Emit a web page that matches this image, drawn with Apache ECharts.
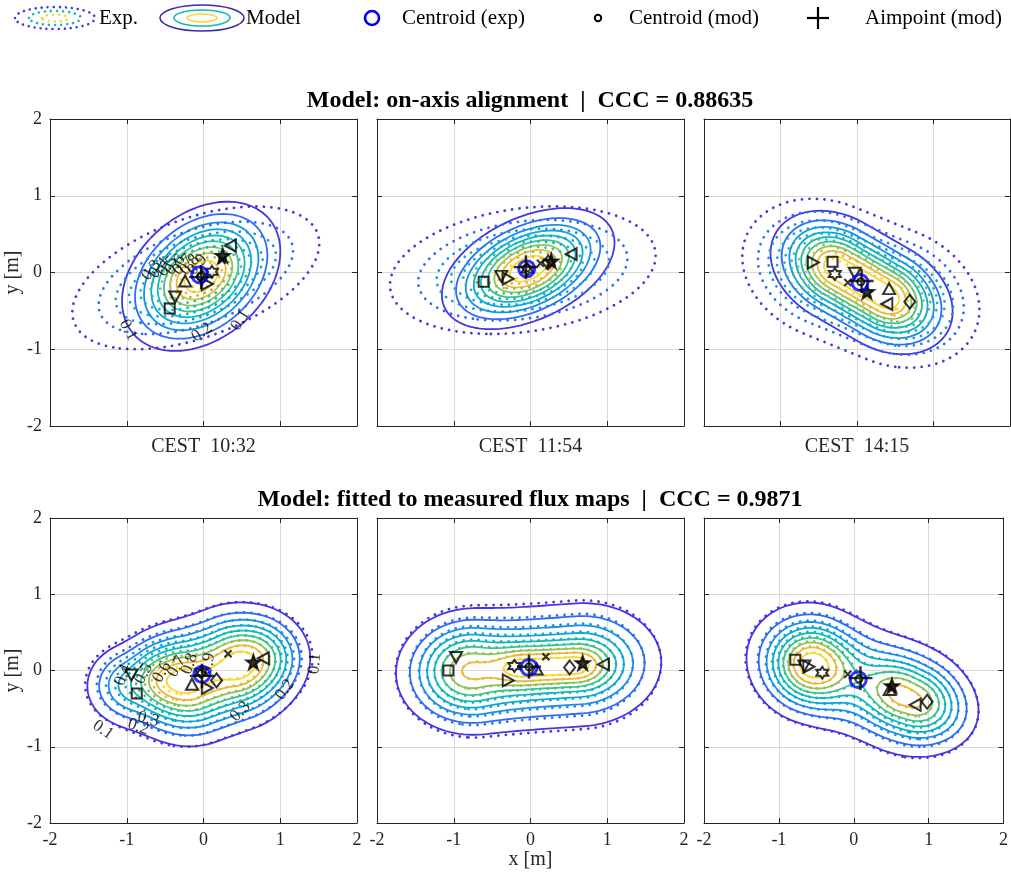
<!DOCTYPE html>
<html>
<head>
<meta charset="utf-8">
<script src="https://cdn.jsdelivr.net/npm/echarts@6/dist/echarts.min.js"></script>
<style>
  html, body { margin: 0; padding: 0; background: #fff; }
  #chart { width: 1011px; height: 878px; }
</style>
</head>
<body>
<div id="chart"></div>
<script>
const FONT = "'Liberation Serif', 'Times New Roman', serif";

// contour levels (normalised flux) and their parula colours
const levels = [0.1, 0.2, 0.3, 0.4, 0.5, 0.6, 0.7, 0.8, 0.9];
const levelColors = ["#4536e0", "#2f6bf5", "#1a90e5", "#0ea8d5", "#13b8b8", "#3bc28f", "#8cc35a", "#e8b93a", "#f7d830"];

const timeLabels = ["CEST  10:32", "CEST  11:54", "CEST  14:15"];
const rowTitles = ["Model: on-axis alignment  |  CCC = 0.88635", "Model: fitted to measured flux maps  |  CCC = 0.9871"];
const axisTicks = [-2, -1, 0, 1, 2];

// flux blobs:
// [x, y, half length, spread along, spread across, angle deg, weight, profile power]
const expBlobs = [
  [[-0.10, -0.07, 0, 0.61, 0.28, 20, 1, 0.75]],
  [[-0.10, 0.03, 0, 0.63, 0.29, 8, 1, 0.75]],
  [[0.05, -0.14, 0.45, 0.50, 0.38, -22, 1, 0.9]],
  [[0.10, -0.06, 0.25, 0.46, 0.40, 20, 1], [-0.85, -0.12, 0.15, 0.33, 0.30, 15, 0.42], [0.82, 0.20, 0, 0.33, 0.30, 0, 0.30]],
  [[0.0, 0.03, 0.65, 0.55, 0.44, 4, 0.7], [0.25, 0.05, 0.3, 0.3, 0.17, 2, 0.4], [-0.95, 0.02, 0, 0.36, 0.36, 0, 0.25]],
  [[-0.55, 0.07, 0, 0.37, 0.33, -15, 1], [0.75, -0.37, 0.1, 0.40, 0.30, -22, 0.8], [0.05, -0.12, 0.6, 0.55, 0.46, -22, 0.42]]
];
const modBlobs = [
  [[-0.03, -0.05, 0, 0.54, 0.38, 40, 1]],
  [[-0.03, 0.05, 0, 0.56, 0.31, 25, 1]],
  [[0.06, -0.13, 0.35, 0.44, 0.32, -30, 1]],
  [[0.12, -0.06, 0.25, 0.44, 0.40, 20, 1], [-0.85, -0.15, 0.15, 0.32, 0.30, 15, 0.40], [0.80, 0.20, 0, 0.32, 0.30, 0, 0.30]],
  [[0.0, 0.03, 0.65, 0.55, 0.42, 4, 0.7], [0.25, 0.05, 0.3, 0.3, 0.17, 2, 0.4], [-0.95, 0.02, 0, 0.35, 0.35, 0, 0.25]],
  [[-0.55, 0.06, 0, 0.36, 0.32, -15, 1], [0.75, -0.36, 0.1, 0.40, 0.29, -22, 0.8], [0.05, -0.12, 0.6, 0.55, 0.46, -22, 0.42]]
];

// heliostat group aimpoints per panel
const heliostatMarks = [
  [["square", -0.44, -0.47], ["triDown", -0.37, -0.32], ["triUp", -0.24, -0.11], ["diamond", -0.02, -0.06], ["triRight", 0.05, -0.15], ["hexagram", 0.11, 0.01], ["cross", 0.24, 0.16], ["star", 0.25, 0.22], ["triLeft", 0.35, 0.35]],
  [["square", -0.61, -0.12], ["triDown", -0.38, -0.05], ["triRight", -0.29, -0.08], ["hexagram", -0.04, 0.04], ["cross", 0.13, 0.12], ["diamond", 0.23, 0.13], ["star", 0.27, 0.15], ["triLeft", 0.53, 0.24]],
  [["triRight", -0.57, 0.13], ["square", -0.32, 0.14], ["hexagram", -0.29, -0.02], ["cross", -0.12, -0.13], ["triDown", -0.03, -0.01], ["star", 0.13, -0.25], ["triUp", 0.42, -0.21], ["triLeft", 0.39, -0.41], ["diamond", 0.69, -0.38]],
  [["triDown", -0.94, -0.06], ["square", -0.87, -0.30], ["triUp", -0.15, -0.18], ["hexagram", -0.03, -0.02], ["triRight", 0.05, -0.23], ["diamond", 0.17, -0.13], ["cross", 0.32, 0.22], ["star", 0.65, 0.11], ["triLeft", 0.78, 0.16]],
  [["square", -1.07, 0.0], ["triDown", -0.97, 0.17], ["triRight", -0.29, -0.13], ["hexagram", -0.21, 0.06], ["triUp", 0.08, 0.02], ["cross", 0.20, 0.18], ["diamond", 0.51, 0.04], ["star", 0.68, 0.10], ["triLeft", 0.95, 0.08]],
  [["square", -0.78, 0.14], ["triDown", -0.66, 0.06], ["triRight", -0.60, 0.05], ["hexagram", -0.42, -0.03], ["cross", -0.08, -0.05], ["star", 0.51, -0.20], ["triUp", 0.48, -0.25], ["triLeft", 0.82, -0.45], ["diamond", 0.98, -0.41]]
];
const centroidExp = [[-0.05, -0.03], [-0.05, 0.05], [0.04, -0.13], [-0.02, -0.05], [-0.02, 0.04], [0.06, -0.12]];
const centroidMod = [[-0.04, -0.05], [-0.05, 0.06], [0.05, -0.12], [-0.03, -0.04], [-0.02, 0.05], [0.07, -0.11]];
const aimpointMod = [[-0.03, -0.06], [-0.06, 0.07], [0.06, -0.11], [-0.02, -0.07], [-0.02, 0.05], [0.09, -0.10]];

// inline contour labels: [text, x, y, rotation]
const contourLabels = [
  [["0.1", -0.98, -0.75, -62], ["0.2", -0.02, -0.78, 35], ["0.1", 0.48, -0.62, 58],
   ["0.3", -0.68, 0.03, 50], ["0.4", -0.58, 0.06, 50], ["0.5", -0.47, 0.08, 50], ["0.6", -0.37, 0.10, 50],
   ["0.7", -0.27, 0.10, 50], ["0.8", -0.18, 0.10, 50], ["0.9", -0.08, 0.10, 50]],
  [], [],
  [["0.1", -1.31, -0.78, -35], ["0.2", -0.85, -0.74, -20], ["0.3", -0.72, -0.64, -15],
   ["0.4", -1.05, -0.06, 70], ["0.5", -0.78, -0.04, 60], ["0.6", -0.54, -0.02, 60], ["0.7", -0.35, 0.05, 60],
   ["0.8", -0.18, 0.09, 70], ["0.9", 0.06, 0.09, 80], ["0.3", 0.48, -0.54, 45], ["0.2", 1.06, -0.25, 55], ["0.1", 1.45, 0.09, 85]],
  [], []
];

// ---------- helpers ----------
function starPath(n, rOut, rIn) {
  let d = "";
  for (let k = 0; k < 2 * n; k++) {
    const r = k % 2 ? rIn : rOut;
    const a = -Math.PI / 2 + k * Math.PI / n;
    d += (k ? "L" : "M") + (10 + r * Math.cos(a)).toFixed(2) + "," + (10 + r * Math.sin(a)).toFixed(2);
  }
  return d + "Z";
}
const symbolDefs = {
  square: { path: "path://M0,0H10V10H0Z", size: 10 },
  triUp: { path: "path://M5,0L10,9L0,9Z", size: [12, 11] },
  triDown: { path: "path://M0,0H10L5,9Z", size: [12, 11] },
  triLeft: { path: "path://M0,5L9,0V10Z", size: [11, 12] },
  triRight: { path: "path://M0,0L9,5L0,10Z", size: [11, 12] },
  diamond: { path: "path://M5,0L10,7L5,14L0,7Z", size: [11, 14] },
  star: { path: "path://" + starPath(5, 10, 4), size: 14, fill: true },
  hexagram: { path: "path://" + starPath(6, 10, 5.8), size: 12 },
  cross: { path: "path://M0,0L10,10M10,0L0,10", size: 7 }
};

function fluxAt(blobs, x, y) {
  let s = 0;
  blobs.forEach(([cx, cy, h, su, sv, ang, w, pw]) => {
    const a = ang * Math.PI / 180;
    const dx = x - cx, dy = y - cy;
    let u = dx * Math.cos(a) + dy * Math.sin(a);
    const v = -dx * Math.sin(a) + dy * Math.cos(a);
    u = Math.max(Math.abs(u) - h, 0);
    s += w * Math.exp(-0.5 * Math.pow((u / su) ** 2 + (v / sv) ** 2, pw || 1));
  });
  return s;
}

const STEP = 0.025;
const gx = [];
for (let v = -2; v <= 2 + 1e-9; v += STEP) gx.push(+v.toFixed(4));

function fluxGrid(blobs) {
  let mx = 0;
  const g = gx.map(y => gx.map(x => { const f = fluxAt(blobs, x, y); mx = Math.max(mx, f); return f; }));
  return g.map(row => row.map(f => f / mx));
}

// marching squares, segments joined into polylines
function contourLines(g, level) {
  const n = gx.length, pts = {}, adj = {};
  const pt = (id, x1, y1, v1, x2, y2, v2) => {
    if (!pts[id]) { const t = (level - v1) / (v2 - v1); pts[id] = [x1 + t * (x2 - x1), y1 + t * (y2 - y1)]; }
    return id;
  };
  const link = (a, b) => { (adj[a] = adj[a] || []).push(b); (adj[b] = adj[b] || []).push(a); };
  for (let j = 0; j < n - 1; j++) {
    for (let i = 0; i < n - 1; i++) {
      const v00 = g[j][i], v10 = g[j][i + 1], v11 = g[j + 1][i + 1], v01 = g[j + 1][i];
      const x0 = gx[i], x1 = gx[i + 1], y0 = gx[j], y1 = gx[j + 1];
      const c = [];
      if ((v00 > level) !== (v10 > level)) c.push(pt("h" + j + "_" + i, x0, y0, v00, x1, y0, v10));
      if ((v10 > level) !== (v11 > level)) c.push(pt("v" + j + "_" + (i + 1), x1, y0, v10, x1, y1, v11));
      if ((v01 > level) !== (v11 > level)) c.push(pt("h" + (j + 1) + "_" + i, x0, y1, v01, x1, y1, v11));
      if ((v00 > level) !== (v01 > level)) c.push(pt("v" + j + "_" + i, x0, y0, v00, x0, y1, v01));
      if (c.length === 2) link(c[0], c[1]);
      else if (c.length === 4) {
        const centre = (v00 + v10 + v11 + v01) / 4;
        if ((centre > level) === (v00 > level)) { link(c[0], c[1]); link(c[2], c[3]); }
        else { link(c[0], c[3]); link(c[1], c[2]); }
      }
    }
  }
  const seen = new Set(), lines = [];
  const walk = start => {
    const ids = [start]; seen.add(start); let cur = start;
    for (;;) {
      const nxt = adj[cur].find(k => !seen.has(k));
      if (!nxt) break;
      seen.add(nxt); ids.push(nxt); cur = nxt;
    }
    if (ids.length > 2 && adj[cur].includes(start)) ids.push(start);
    return ids.map(k => pts[k]);
  };
  Object.keys(adj).filter(k => adj[k].length === 1).forEach(k => { if (!seen.has(k)) lines.push(walk(k)); });
  Object.keys(adj).forEach(k => { if (!seen.has(k)) lines.push(walk(k)); });
  return lines;
}

// ---------- layout ----------
const colLeft = [50, 377, 704], colWidth = [307, 307, 306];
const rowTop = [119, 518], rowHeight = [307, 305];
const nameStyle = { fontSize: 20, fontFamily: FONT, color: "#262626" };

function axisBase(gridIndex, position, showLabels, showSplit) {
  return {
    type: "value", gridIndex, position, min: -2, max: 2, interval: 1,
    axisLine: { show: true, onZero: false, lineStyle: { color: "#262626", width: 1 } },
    axisTick: { show: true, inside: true, length: 5, lineStyle: { color: "#262626" } },
    axisLabel: { show: showLabels, color: "#262626", fontSize: 18, fontFamily: FONT, margin: 8,
      formatter: v => axisTicks.includes(v) ? String(v) : "" },
    splitLine: { show: showSplit, lineStyle: { color: "#d9d9d9", width: 1 } }
  };
}

const grids = [], xAxes = [], yAxes = [], series = [];
for (let p = 0; p < 6; p++) {
  const r = Math.floor(p / 3), c = p % 3;
  grids.push({ left: colLeft[c], top: rowTop[r], width: colWidth[c], height: rowHeight[r] });

  const xb = axisBase(p, "bottom", r === 1, true);
  if (r === 0) {
    Object.assign(xb, { name: timeLabels[c], nameLocation: "middle", nameGap: 11, nameTextStyle: nameStyle });
  } else if (c === 1) {
    Object.assign(xb, { name: "x [m]", nameLocation: "middle", nameGap: 27, nameTextStyle: nameStyle });
  }
  xAxes.push(xb, axisBase(p, "top", false, false));

  const yl = axisBase(p, "left", c === 0, true);
  if (c === 0) {
    Object.assign(yl, { name: "y [m]", nameLocation: "middle", nameGap: 22, nameRotate: 90, nameTextStyle: nameStyle });
  }
  yAxes.push(yl, axisBase(p, "right", false, false));

  const axisRef = { xAxisIndex: 2 * p, yAxisIndex: 2 * p };
  [[expBlobs[p], true], [modBlobs[p], false]].forEach(([blobs, dotted]) => {
    const g = fluxGrid(blobs);
    levels.forEach((lv, li) => {
      contourLines(g, lv).forEach(line => {
        series.push(Object.assign({
          type: "line", data: line, symbol: "none", silent: true, animation: false, z: dotted ? 3 : 2,
          lineStyle: dotted
            ? { color: levelColors[li], width: 2.8, type: [0.01, 7.5], cap: "round" }
            : { color: levelColors[li], width: 1.8 }
        }, axisRef));
      });
    });
  });

  if (contourLabels[p].length) {
    series.push(Object.assign({
      type: "scatter", symbolSize: 0, silent: true, animation: false, z: 4,
      data: contourLabels[p].map(([t, x, y, rot]) => ({ name: t, value: [x, y], label: { rotate: rot } })),
      label: { show: true, position: "inside", formatter: q => q.name, fontSize: 17, fontFamily: FONT, color: "#000" }
    }, axisRef));
  }

  heliostatMarks[p].forEach(([kind, x, y]) => {
    const s = symbolDefs[kind];
    series.push(Object.assign({
      type: "scatter", data: [[x, y]], symbol: s.path, symbolSize: s.size, silent: true, animation: false, z: 5,
      itemStyle: { color: s.fill ? "#000" : "rgba(0,0,0,0)", borderColor: "#000", borderWidth: 2 }
    }, axisRef));
  });

  series.push(Object.assign({
    type: "scatter", data: [centroidExp[p]], symbol: "circle", symbolSize: 16, silent: true, animation: false, z: 6,
    itemStyle: { color: "rgba(0,0,0,0)", borderColor: "#0000ff", borderWidth: 3 }
  }, axisRef));
  series.push(Object.assign({
    type: "scatter", data: [centroidMod[p]], symbol: "circle", symbolSize: 7, silent: true, animation: false, z: 7,
    itemStyle: { color: "rgba(0,0,0,0)", borderColor: "#000", borderWidth: 2 }
  }, axisRef));
  series.push(Object.assign({
    type: "scatter", data: [aimpointMod[p]], symbol: "path://M5,0V10M0,5H10", symbolSize: 24, silent: true, animation: false, z: 7,
    itemStyle: { color: "rgba(0,0,0,0)", borderColor: "#000", borderWidth: 2.4 }
  }, axisRef));
}

// titles and legend
const legendText = (x, text) => ({ type: "text", x, y: 18,
  style: { text, font: "21px " + FONT, fill: "#000", textAlign: "left", textVerticalAlign: "middle" } });
const ring = (cx, rx, ry, color, dotted) => ({ type: "ellipse", shape: { cx, cy: 18, rx, ry },
  style: dotted ? { fill: "none", stroke: color, lineWidth: 2.6, lineDash: [0.01, 6], lineCap: "round" }
                : { fill: "none", stroke: color, lineWidth: 1.6 } });

const graphic = [
  { type: "text", x: 530, y: 101, style: { text: rowTitles[0], font: "bold 24px " + FONT, fill: "#000", textAlign: "center", textVerticalAlign: "middle" } },
  { type: "text", x: 530, y: 500, style: { text: rowTitles[1], font: "bold 24px " + FONT, fill: "#000", textAlign: "center", textVerticalAlign: "middle" } },
  ring(55, 40, 11, levelColors[0], true), ring(55, 26, 7, levelColors[4], true), ring(55, 13, 3.5, levelColors[8], true),
  legendText(99, "Exp."),
  ring(202, 42, 13, "#3a2aa8", false), ring(202, 28, 8, levelColors[4], false), ring(202, 15, 4, levelColors[8], false),
  legendText(246, "Model"),
  { type: "circle", shape: { cx: 372, cy: 18, r: 7 }, style: { fill: "none", stroke: "#0000ff", lineWidth: 2.6 } },
  legendText(402, "Centroid (exp)"),
  { type: "circle", shape: { cx: 598, cy: 18, r: 3.2 }, style: { fill: "none", stroke: "#000", lineWidth: 2 } },
  legendText(629, "Centroid (mod)"),
  { type: "line", shape: { x1: 807, y1: 18, x2: 829, y2: 18 }, style: { stroke: "#000", lineWidth: 2.2 } },
  { type: "line", shape: { x1: 818, y1: 7, x2: 818, y2: 29 }, style: { stroke: "#000", lineWidth: 2.2 } },
  legendText(865, "Aimpoint (mod)")
];

const chart = echarts.init(document.getElementById("chart"), null, { renderer: "canvas" });
chart.setOption({
  backgroundColor: "#fff",
  animation: false,
  grid: grids,
  xAxis: xAxes,
  yAxis: yAxes,
  series,
  graphic
});
</script>
</body>
</html>
